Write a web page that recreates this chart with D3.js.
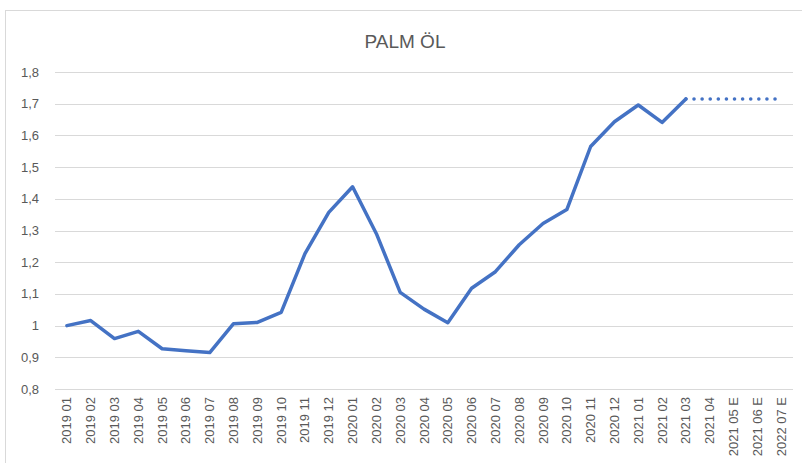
<!DOCTYPE html>
<html>
<head>
<meta charset="utf-8">
<script src="https://d3js.org/d3.v7.min.js"></script>
<style>
  body { margin: 0; background: #fff; }
  text { font-family: "Liberation Sans", Arial, sans-serif; fill: #595959; }
</style>
</head>
<body>
<svg width="802" height="463"></svg>
<script>

var months = ["2019 01","2019 02","2019 03","2019 04","2019 05","2019 06","2019 07","2019 08","2019 09","2019 10","2019 11","2019 12",
  "2020 01","2020 02","2020 03","2020 04","2020 05","2020 06","2020 07","2020 08","2020 09","2020 10","2020 11","2020 12",
  "2021 01","2021 02","2021 03","2021 04","2021 05 E","2021 06 E","2022 07 E"];

var actual = [1.00, 1.016, 0.959, 0.982, 0.927, 0.921, 0.915, 1.006, 1.01, 1.042, 1.227, 1.357,
  1.438, 1.29, 1.105, 1.052, 1.009, 1.118, 1.17, 1.255, 1.322, 1.366, 1.565, 1.643,
  1.696, 1.641, 1.715];

var forecast = [1.715, 1.715, 1.715, 1.715, 1.715];  // 2021 03 .. 2022 07 E

var yTicks = [0.8, 0.9, 1.0, 1.1, 1.2, 1.3, 1.4, 1.5, 1.6, 1.7, 1.8];

var svg = d3.select("svg");

var locale = d3.formatLocale({decimal: ",", thousands: ".", grouping: [3], currency: ["", ""]});
var fmt = locale.format(".1~f");

// chart frame
svg.append("rect")
    .attr("x", 5.5).attr("y", 10.5)
    .attr("width", 800).attr("height", 460)
    .attr("fill", "none")
    .attr("stroke", "#d9d9d9");

svg.append("text")
    .attr("x", 405).attr("y", 48)
    .attr("text-anchor", "middle")
    .style("font-size", "19px")
    .text("PALM ÖL");

var x = d3.scaleBand().domain(months).range([55, 793]).padding(0);
var y = d3.scaleLinear().domain([0.8, 1.8]).range([389, 72]);

function cx(d) { return x(d) + x.bandwidth() / 2; }

// gridlines
svg.append("g").selectAll("line")
  .data(yTicks)
  .enter().append("line")
    .attr("x1", 55).attr("x2", 793)
    .attr("y1", function(d) { return Math.round(y(d)) + 0.5; })
    .attr("y2", function(d) { return Math.round(y(d)) + 0.5; })
    .attr("stroke", "#d9d9d9")
    .attr("stroke-width", 1);

// y labels
svg.append("g").selectAll("text")
  .data(yTicks)
  .enter().append("text")
    .attr("x", 39)
    .attr("y", function(d) { return y(d); })
    .attr("dy", "0.35em")
    .attr("text-anchor", "end")
    .style("font-size", "13px")
    .text(function(d) { return fmt(d); });

// x labels
svg.append("g").selectAll("text")
  .data(months)
  .enter().append("text")
    .attr("transform", function(d) { return "translate(" + (cx(d) + 4.5) + ",397) rotate(-90)"; })
    .attr("text-anchor", "end")
    .style("font-size", "13px")
    .text(function(d) { return d; });

var line = d3.line()
    .x(function(d) { return cx(d[0]); })
    .y(function(d) { return y(d[1]); });

var actualPts = actual.map(function(v, i) { return [months[i], v]; });
var forecastPts = forecast.map(function(v, i) { return [months[actual.length - 1 + i], v]; });

svg.append("path")
    .datum(actualPts)
    .attr("d", line)
    .attr("fill", "none")
    .attr("stroke", "#4472c4")
    .attr("stroke-width", 3.5)
    .attr("stroke-linejoin", "round")
    .attr("stroke-linecap", "round");

svg.append("path")
    .datum(forecastPts)
    .attr("d", line)
    .attr("fill", "none")
    .attr("stroke", "#4472c4")
    .attr("stroke-width", 3.5)
    .attr("stroke-dasharray", "0.1 8")
    .attr("stroke-linecap", "round");

</script>
</body>
</html>
